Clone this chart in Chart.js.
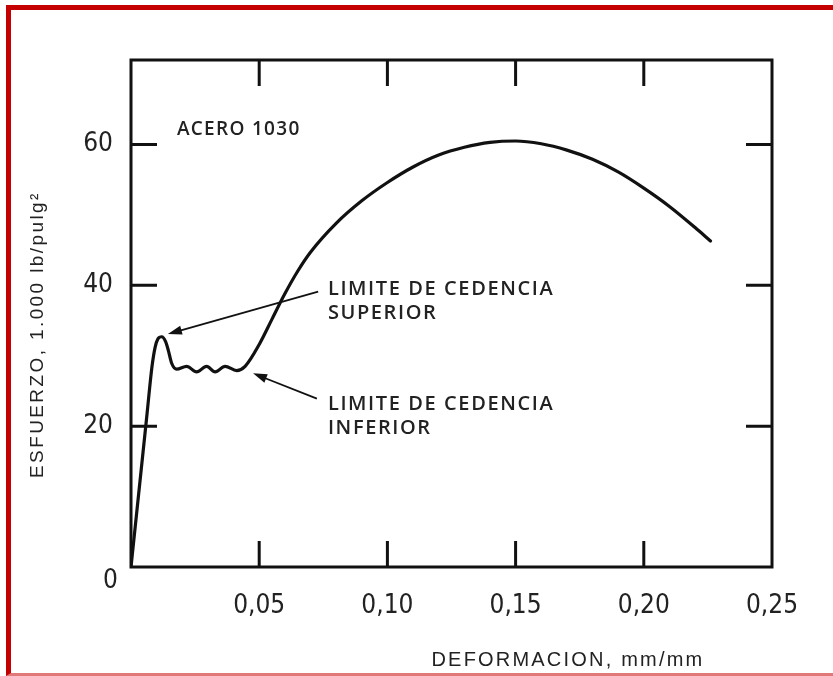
<!DOCTYPE html>
<html><head><meta charset="utf-8">
<script src="https://cdn.jsdelivr.net/npm/chart.js@4.4.1/dist/chart.umd.min.js"></script>
<style>
html,body{margin:0;padding:0;background:#fff;}
#wrap{position:relative;width:833px;height:676px;overflow:hidden;background:#fff;}
canvas{position:absolute;left:0;top:0;}
#frame{position:absolute;left:6px;top:5px;width:900px;height:663px;border-top:5px solid #c40000;border-left:5px solid #c40000;border-bottom:3px solid #e07a7a;pointer-events:none;}
</style></head><body>
<div id="wrap"><canvas id="c" width="833" height="676"></canvas><div id="frame"></div></div>
<script>
// ---- data ----
const strain = [0, 0.0061, 0.0082, 0.0094, 0.0105, 0.0120, 0.0135, 0.0146, 0.0159, 0.0178,
  0.0217, 0.0256, 0.0295, 0.0328, 0.0367, 0.0412, 0.0445, 0.050, 0.055, 0.060, 0.065, 0.070,
  0.080, 0.090, 0.100, 0.110, 0.120, 0.130, 0.140, 0.150, 0.160, 0.170, 0.180, 0.190, 0.200,
  0.210, 0.220, 0.226];
const stress = [0, 21.2, 28.5, 31.2, 32.4, 32.7, 32.0, 30.7, 28.9, 28.1,
  28.5, 27.7, 28.5, 27.7, 28.5, 27.9, 28.5, 31.6, 35.2, 38.8, 42.0, 44.7,
  48.8, 52.0, 54.6, 56.8, 58.5, 59.6, 60.3, 60.5, 60.1, 59.2, 57.9, 56.1, 53.8,
  51.2, 48.2, 46.3];
const xTicks = [0.05, 0.10, 0.15, 0.20, 0.25];
const xTickLabels = ['0,05', '0,10', '0,15', '0,20', '0,25'];
const yTicks = [0, 20, 40, 60];
const yTickLabels = ['0', '20', '40', '60'];
const xTitle = 'DEFORMACION, mm/mm';
const yTitle = 'ESFUERZO, 1.000 lb/pulg\u00B2';
const material = 'ACERO 1030';
const upperNote = ['LIMITE DE CEDENCIA', 'SUPERIOR'];
const lowerNote = ['LIMITE DE CEDENCIA', 'INFERIOR'];
// annotation anchors (data units)
const upperArrow = {from:[0.0730, 39.1], to:[0.0144, 33.1]};
const lowerArrow = {from:[0.0725, 23.9], to:[0.0476, 27.5]};

const X_MIN = 0, X_MAX = 0.25, Y_MIN = 0, Y_MAX = 72;
const INK = '#111';
const TEXT = '#222';
const TICK_FONT = '"Liberation Sans Narrow", "DejaVu Sans Condensed", "Liberation Sans", sans-serif';
const TEXT_FONT = '"Open Sans", "Liberation Sans", sans-serif';

const points = strain.map((v, i) => ({x: v, y: stress[i]}));

function arrow(ctx, x1, y1, x2, y2) {
  const ang = Math.atan2(y2 - y1, x2 - x1), L = 14, W = 4.5;
  const c = Math.cos(ang), s = Math.sin(ang);
  ctx.beginPath();
  ctx.moveTo(x1, y1);
  ctx.lineTo(x2 - L * 0.7 * c, y2 - L * 0.7 * s);
  ctx.lineWidth = 1.8;
  ctx.stroke();
  ctx.beginPath();
  ctx.moveTo(x2, y2);
  ctx.lineTo(x2 - L * c + W * s, y2 - L * s - W * c);
  ctx.lineTo(x2 - L * c - W * s, y2 - L * s + W * c);
  ctx.closePath();
  ctx.fill();
}

const decor = {
  id: 'decor',
  afterDraw(chart) {
    const {ctx, chartArea: a, scales: {x, y}} = chart;
    const TICK = 26;
    ctx.save();
    ctx.strokeStyle = INK; ctx.fillStyle = INK; ctx.lineWidth = 3;
    ctx.strokeRect(a.left, a.top, a.right - a.left, a.bottom - a.top);
    ctx.beginPath();
    xTicks.forEach(v => {
      if (v >= X_MAX) return;
      const px = x.getPixelForValue(v);
      ctx.moveTo(px, a.bottom); ctx.lineTo(px, a.bottom - TICK);
      ctx.moveTo(px, a.top); ctx.lineTo(px, a.top + TICK);
    });
    yTicks.forEach(v => {
      if (v <= Y_MIN) return;
      const py = y.getPixelForValue(v);
      ctx.moveTo(a.left, py); ctx.lineTo(a.left + TICK, py);
      ctx.moveTo(a.right, py); ctx.lineTo(a.right - TICK, py);
    });
    ctx.stroke();

    // origin label
    ctx.fillStyle = TEXT;
    ctx.font = '26px ' + TICK_FONT;
    ctx.textAlign = 'right'; ctx.textBaseline = 'middle';
    ctx.fillText(yTickLabels[0], a.left - 13, y.getPixelForValue(0) + 14);

    // axis titles
    ctx.font = '20px "Liberation Sans", sans-serif';
    ctx.letterSpacing = '2.2px';
    ctx.textAlign = 'center';
    ctx.fillText(xTitle, x.getPixelForValue(0.1704), a.bottom + 93);
    ctx.save();
    ctx.translate(38, y.getPixelForValue(33.0));
    ctx.rotate(-Math.PI / 2);
    ctx.font = '19px "Liberation Sans", sans-serif';
    ctx.letterSpacing = '2.4px';
    ctx.fillText(yTitle, 0, 0);
    ctx.restore();

    // notes
    ctx.font = '600 19px ' + TEXT_FONT;
    ctx.letterSpacing = '1.3px';
    ctx.textAlign = 'left';
    ctx.fillText(material, x.getPixelForValue(0.0179), y.getPixelForValue(62.1));
    ctx.font = '600 20px ' + TEXT_FONT;
    ctx.letterSpacing = '1.6px';
    const ux = x.getPixelForValue(0.0768);
    let uy = y.getPixelForValue(39.5);
    upperNote.forEach((t, i) => ctx.fillText(t, ux, uy + i * 24));
    let ly = y.getPixelForValue(23.1);
    lowerNote.forEach((t, i) => ctx.fillText(t, ux, ly + i * 24));

    ctx.strokeStyle = INK; ctx.fillStyle = INK;
    [upperArrow, lowerArrow].forEach(ar => {
      arrow(ctx, x.getPixelForValue(ar.from[0]), y.getPixelForValue(ar.from[1]),
                 x.getPixelForValue(ar.to[0]), y.getPixelForValue(ar.to[1]));
    });
    ctx.restore();
  }
};

new Chart(document.getElementById('c'), {
  type: 'line',
  data: {
    datasets: [{
      data: points,
      borderColor: INK,
      borderWidth: 3.2,
      pointRadius: 0,
      fill: false,
      cubicInterpolationMode: 'monotone',
      borderCapStyle: 'round',
      borderJoinStyle: 'round'
    }]
  },
  options: {
    responsive: false,
    animation: false,
    events: [],
    layout: {padding: {left: 0, top: 60, right: 61, bottom: 0}},
    plugins: {legend: {display: false}, tooltip: {enabled: false}},
    scales: {
      x: {
        type: 'linear', min: X_MIN, max: X_MAX,
        grid: {display: false, drawTicks: false},
        border: {display: false},
        afterBuildTicks: s => { s.ticks = xTicks.map(v => ({value: v})); },
        afterFit: s => { s.height = 109; },
        ticks: {
          padding: 24,
          color: TEXT,
          font: {family: TICK_FONT, size: 26},
          maxRotation: 0,
          autoSkip: false,
          callback: (v) => { const i = xTicks.indexOf(v); return i >= 0 ? xTickLabels[i] : ''; }
        }
      },
      y: {
        type: 'linear', min: Y_MIN, max: Y_MAX,
        grid: {display: false, drawTicks: false},
        border: {display: false},
        afterBuildTicks: s => { s.ticks = yTicks.map(v => ({value: v})); },
        afterFit: s => { s.width = 131; },
        ticks: {
          padding: 18,
          color: TEXT,
          font: {family: TICK_FONT, size: 26},
          autoSkip: false,
          callback: (v) => { const i = yTicks.indexOf(v); return (i > 0) ? yTickLabels[i] : ''; }
        }
      }
    }
  },
  plugins: [decor]
});
</script>
</body></html>
